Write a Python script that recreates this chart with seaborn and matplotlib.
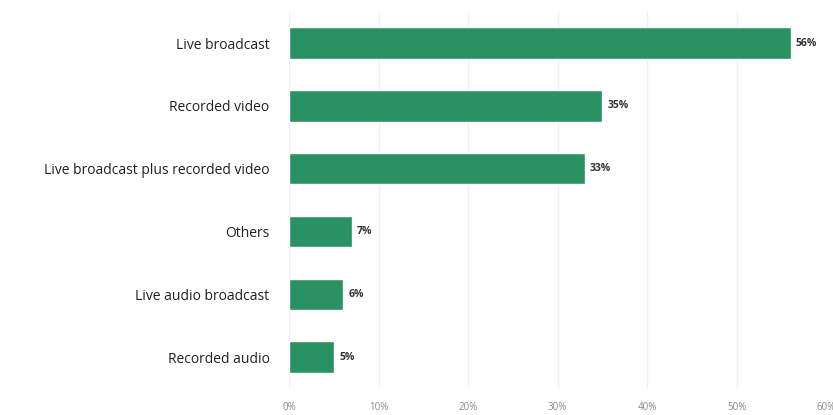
import matplotlib
matplotlib.use('Agg')
from matplotlib import pyplot as plt
import pandas as pd
import seaborn as sns

categories = ['Live broadcast', 'Recorded video', 'Live broadcast plus recorded video',
              'Others', 'Live audio broadcast', 'Recorded audio']
shares = [56, 35, 33, 7, 6, 5]
ticks = [0, 10, 20, 30, 40, 50, 60]

sns.set_style('whitegrid')
plt.rcParams['font.family'] = ['Open Sans', 'DejaVu Sans']

df = pd.DataFrame({'category': categories, 'share': shares})

fig = plt.figure(figsize=(8.33, 4.15), dpi=100)
ax = fig.add_axes([0.347, 0.064, 0.645, 0.908])
sns.barplot(data=df, x='share', y='category', color='#2a9163', saturation=1,
            width=0.5, ax=ax)

for i, v in enumerate(shares):
    ax.text(v + 0.6, i, '{}%'.format(v), va='center', ha='left',
            fontsize=7.5, fontweight='bold', color='#333333')

ax.set_xlim(0, 60)
ax.set_ylim(5.5, -0.5)
ax.set_xticks(ticks)
ax.set_xticklabels(['{}%'.format(t) for t in ticks], fontsize=7, color='#888888')
ax.tick_params(axis='y', labelsize=10, colors='#222222', length=0, pad=14)
ax.tick_params(axis='x', length=0, pad=10)
ax.grid(axis='x', color='#f0f0f0', lw=1)
ax.grid(axis='y', visible=False)
ax.set_xlabel('')
ax.set_ylabel('')
for s in ax.spines.values():
    s.set_visible(False)

fig.savefig('out.png', dpi=100)
